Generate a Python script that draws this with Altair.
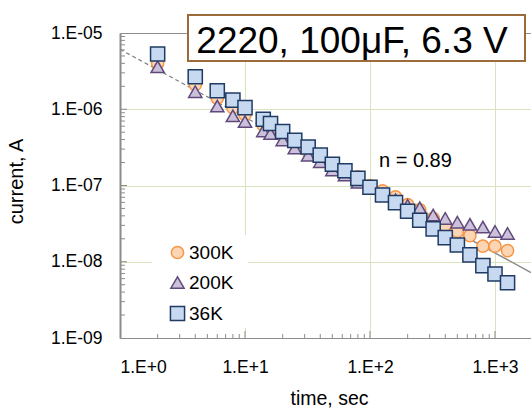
import altair as alt
import pandas as pd

# ---- data ----
times = [2, 4, 6, 8, 10, 14, 16, 20, 25, 32, 40, 50, 63, 80, 100, 126, 160, 200,
         250, 320, 400, 500, 630, 800, 1000, 1260]
i_300K = [4.0e-6, 2.1e-6, 1.4e-6, 1.05e-6, 8.5e-7, 6.2e-7, 5.5e-7, 4.5e-7, 3.5e-7,
          2.8e-7, 2.3e-7, 1.8e-7, 1.55e-7, 1.3e-7, 1.0e-7, 8.5e-8, 7.1e-8, 5.6e-8,
          4.8e-8, 3.7e-8, 3.0e-8, 2.5e-8, 2.2e-8, 1.6e-8, 1.6e-8, 1.4e-8]
i_200K = [3.6e-6, 1.7e-6, 1.1e-6, 8.2e-7, 6.9e-7, 5.2e-7, 4.8e-7, 3.95e-7, 3.1e-7,
          2.5e-7, 2.05e-7, 1.6e-7, 1.37e-7, 1.1e-7, 9.2e-8, 7.6e-8, 6.5e-8, 5.5e-8,
          5.1e-8, 4.1e-8, 3.7e-8, 3.3e-8, 3.1e-8, 2.85e-8, 2.5e-8, 2.35e-8]
i_36K = [5.3e-6, 2.67e-6, 1.75e-6, 1.32e-6, 1.05e-6, 7.4e-7, 6.5e-7, 5.1e-7, 3.9e-7,
         3.2e-7, 2.5e-7, 1.9e-7, 1.56e-7, 1.24e-7, 9.5e-8, 7.5e-8, 5.95e-8, 4.6e-8,
         3.5e-8, 2.7e-8, 2.07e-8, 1.66e-8, 1.23e-8, 8.9e-9, 6.9e-9, 5.3e-9]
series = ["300K", "200K", "36K"]

# power-law trend line (n = 0.89), dashed then solid
trend_dash_t = [1, 150]
trend_dash_i = [6.1e-6, 7.06e-8]
trend_solid_t = [150, 1941]
trend_solid_i = [7.06e-8, 7.23e-9]

x_major = [1, 10, 100, 1000]
y_major = [1e-9, 1e-8, 1e-7, 1e-6, 1e-5]
x_minor = [2, 3, 4, 5, 6, 7, 8, 9, 20, 30, 40, 50, 60, 70, 80, 90,
           200, 300, 400, 500, 600, 700, 800, 900]
y_minor = [2e-9, 3e-9, 4e-9, 5e-9, 6e-9, 7e-9, 8e-9, 9e-9,
           2e-8, 3e-8, 4e-8, 5e-8, 6e-8, 7e-8, 8e-8, 9e-8,
           2e-7, 3e-7, 4e-7, 5e-7, 6e-7, 7e-7, 8e-7, 9e-7,
           2e-6, 3e-6, 4e-6, 5e-6, 6e-6, 7e-6, 8e-6, 9e-6]
x_major_ticks = [10, 100, 1000]
y_major_ticks = [1e-8, 1e-7, 1e-6]

X_MAX = 1941
FONT = "Liberation Sans"
W, H = 411, 305

rows = []
for name, vals in zip(series, [i_300K, i_200K, i_36K]):
    for t, v in zip(times, vals):
        rows.append({"t": t, "I": v, "series": name})
df = pd.DataFrame(rows)

xs = alt.Scale(type="log", domain=[1, X_MAX], nice=False)
ys = alt.Scale(type="log", domain=[1e-9, 1e-5], nice=False)

grid_color = "#D7E4BD"
axis_gray = "#8C8C8C"

x_axis = alt.Axis(values=x_major, grid=True, gridColor=grid_color, gridWidth=1,
                  ticks=False, tickSize=0, domainColor=axis_gray, domainWidth=1,
                  labelExpr="'1.E+' + round(log(datum.value)/LN10)",
                  labelFont=FONT, labelFontSize=17.5, labelColor="black",
                  labelPadding=20, labelBaseline="top",
                  title="time, sec", titleFont=FONT, titleFontSize=19.5,
                  titleFontWeight="normal", titleColor="black",
                  titleX=209, titleY=66, titleBaseline="alphabetic",
                  titleAlign="center")
y_axis = alt.Axis(values=y_major, grid=True, gridColor=grid_color, gridWidth=1,
                  ticks=False, tickSize=0, domainColor=axis_gray, domainWidth=2,
                  labelExpr="'1.E-0' + round(-log(datum.value)/LN10)",
                  labelFont=FONT, labelFontSize=17.5, labelColor="black",
                  labelPadding=18,
                  title="current, A", titleFont=FONT, titleFontSize=20,
                  titleFontWeight="normal", titleColor="black",
                  titleAngle=-90, titleX=-98, titleY=148,
                  titleBaseline="alphabetic", titleAlign="center")

legend = alt.Legend(title=None, orient="none", legendX=48, legendY=210,
                    labelFont=FONT, labelFontSize=19, labelColor="black",
                    labelOffset=2, rowPadding=10, padding=0,
                    symbolStrokeWidth=1.5)

points = alt.Chart(df).mark_point(opacity=1, fillOpacity=1, strokeWidth=1.5).encode(
    x=alt.X("t:Q", scale=xs, axis=x_axis),
    y=alt.Y("I:Q", scale=ys, axis=y_axis),
    shape=alt.Shape("series:N", scale=alt.Scale(domain=series,
                    range=["circle", "triangle-up", "square"]), legend=legend),
    fill=alt.Fill("series:N", scale=alt.Scale(domain=series,
                  range=["#FCD5B5", "#CCC1DA", "#C6D9F1"]), legend=legend),
    stroke=alt.Stroke("series:N", scale=alt.Scale(domain=series,
                      range=["#F79646", "#604A7B", "#1F3B64"]), legend=legend),
    size=alt.Size("series:N", scale=alt.Scale(domain=series,
                  range=[150, 200, 140]), legend=legend),
)

dash_df = pd.DataFrame({"t": trend_dash_t, "I": trend_dash_i})
solid_df = pd.DataFrame({"t": trend_solid_t, "I": trend_solid_i})

trend_dash = alt.Chart(dash_df).mark_line(color="#7F7F7F", strokeWidth=1.2,
                                           strokeDash=[4, 3]).encode(
    x=alt.X("t:Q", scale=xs, axis=alt.Axis(orient="top", labels=False, ticks=False,
                                           grid=False, title=None, domainColor=axis_gray,
                                           domainWidth=1)),
    y=alt.Y("I:Q", scale=ys),
)
trend_solid = alt.Chart(solid_df).mark_line(color="#8C8C8C", strokeWidth=1.5).encode(
    x=alt.X("t:Q", scale=xs, axis=None),
    y=alt.Y("I:Q", scale=ys),
)

# inward minor / major ticks
xmin_df = pd.DataFrame({"v": x_minor})
xmaj_df = pd.DataFrame({"v": x_major_ticks})
ymin_df = pd.DataFrame({"v": y_minor})
ymaj_df = pd.DataFrame({"v": y_major_ticks})
xminor_ticks = alt.Chart(xmin_df).mark_rule(color=axis_gray, strokeWidth=1).encode(
    x=alt.X("v:Q", scale=xs, axis=None), y=alt.value(H), y2=alt.value(H - 4))
xmajor_ticks = alt.Chart(xmaj_df).mark_rule(color=axis_gray, strokeWidth=1).encode(
    x=alt.X("v:Q", scale=xs, axis=None), y=alt.value(H), y2=alt.value(H - 7))
yminor_ticks = alt.Chart(ymin_df).mark_rule(color=axis_gray, strokeWidth=1).encode(
    y=alt.Y("v:Q", scale=ys), x=alt.value(0), x2=alt.value(5))
ymajor_ticks = alt.Chart(ymaj_df).mark_rule(color=axis_gray, strokeWidth=1).encode(
    y=alt.Y("v:Q", scale=ys), x=alt.value(0), x2=alt.value(7))

# white backdrop for legend
legend_bg = alt.Chart(pd.DataFrame({"a": [0]})).mark_rect(fill="white").encode(
    x=alt.value(32), x2=alt.value(128), y=alt.value(202), y2=alt.value(295))

# label box
box = alt.Chart(pd.DataFrame({"a": [0]})).mark_rect(
    fill="white", stroke="#9C6B3A", strokeWidth=2).encode(
    x=alt.value(68), x2=alt.value(405), y=alt.value(-18), y2=alt.value(28))
box_text = alt.Chart(pd.DataFrame({"label": ["2220, 100\u03bcF, 6.3 V"]})).mark_text(
    font=FONT, fontSize=37, color="black", align="center", baseline="alphabetic").encode(
    x=alt.value(232), y=alt.value(20), text="label:N")

n_text = alt.Chart(pd.DataFrame({"label": ["n = 0.89"]})).mark_text(
    font=FONT, fontSize=20, color="black", align="left", baseline="alphabetic").encode(
    x=alt.value(259), y=alt.value(134), text="label:N")

chart = alt.layer(
    trend_dash, trend_solid, xminor_ticks, xmajor_ticks, yminor_ticks, ymajor_ticks,
    legend_bg, points, n_text, box, box_text
).resolve_axis(x="independent").properties(
    width=W, height=H,
    autosize=alt.AutoSizeParams(type="none"),
    padding={"left": 120, "top": 33, "right": 0, "bottom": 73},
    background="white",
).configure_view(stroke=None)

chart.save("out.html", embed_options={"renderer": "svg", "actions": False})
